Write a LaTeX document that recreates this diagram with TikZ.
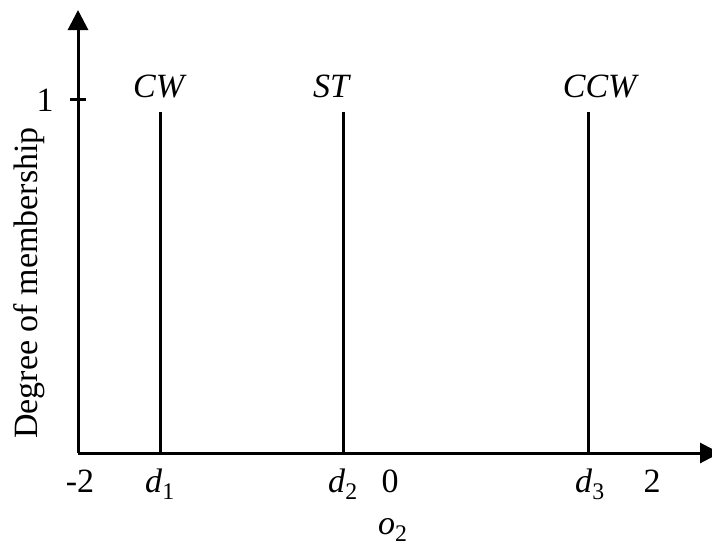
\documentclass[tikz,border=0pt]{standalone}
\usepackage{fontspec}
\setmainfont{Liberation Serif}
\usetikzlibrary{arrows.meta}

\tikzset{
  axis/.style={line width=3pt, -{Triangle[length=20pt,width=20pt]}},
  spike/.style={line width=3pt},
  lbl/.style={inner sep=0pt, anchor=base, font=\fontsize{34}{40}\selectfont}
}

\begin{document}
\begin{tikzpicture}[x=1pt,y=-1pt]
  \useasboundingbox (0,0) rectangle (712,546);

  % Achsen
  \coordinate (o) at (78,453);
  \coordinate (ytip) at (78,10);
  \coordinate (xtip) at (720,453);
  \draw[axis] (o) -- (ytip);
  \draw[axis] (o) -- (xtip);
  \coordinate (t1) at (70,99);
  \coordinate (t2) at (86,99);
  \draw[spike] (t1) -- (t2);

  \node[lbl] (one) at (45,111) {1};
  \node[lbl, rotate=90] (ylab) at (37,283) {Degree of membership};

  % Singletons
  \foreach \nm/\xx/\tx in {cw/160/CW, st/343/ST, ccw/588/CCW} {
    \coordinate (\nm-b) at (\xx,453);
    \coordinate (\nm-t) at (\xx,112);
    \draw[spike] (\nm-b) -- (\nm-t);
  }
  \node[lbl] (cwl) at (160,97) {\textit{CW}};
  \node[lbl] (stl) at (332,97) {\textit{ST}};
  \node[lbl] (ccwl) at (601,97) {\textit{CCW}};

  % Beschriftung x-Achse
  \node[lbl] (m2) at (80,492) {-2};
  \node[lbl, anchor=base west] (d1) at (145,492) {\textit{d}\textsubscript{1}};
  \node[lbl, anchor=base west] (d2) at (328,492) {\textit{d}\textsubscript{2}};
  \node[lbl] (zero) at (390,492) {0};
  \node[lbl, anchor=base west] (d3) at (575,492) {\textit{d}\textsubscript{3}};
  \node[lbl] (two) at (652,492) {2};
  \node[lbl, anchor=base west] (xlab) at (378,534) {\textit{o}\textsubscript{2}};
\end{tikzpicture}
\end{document}
